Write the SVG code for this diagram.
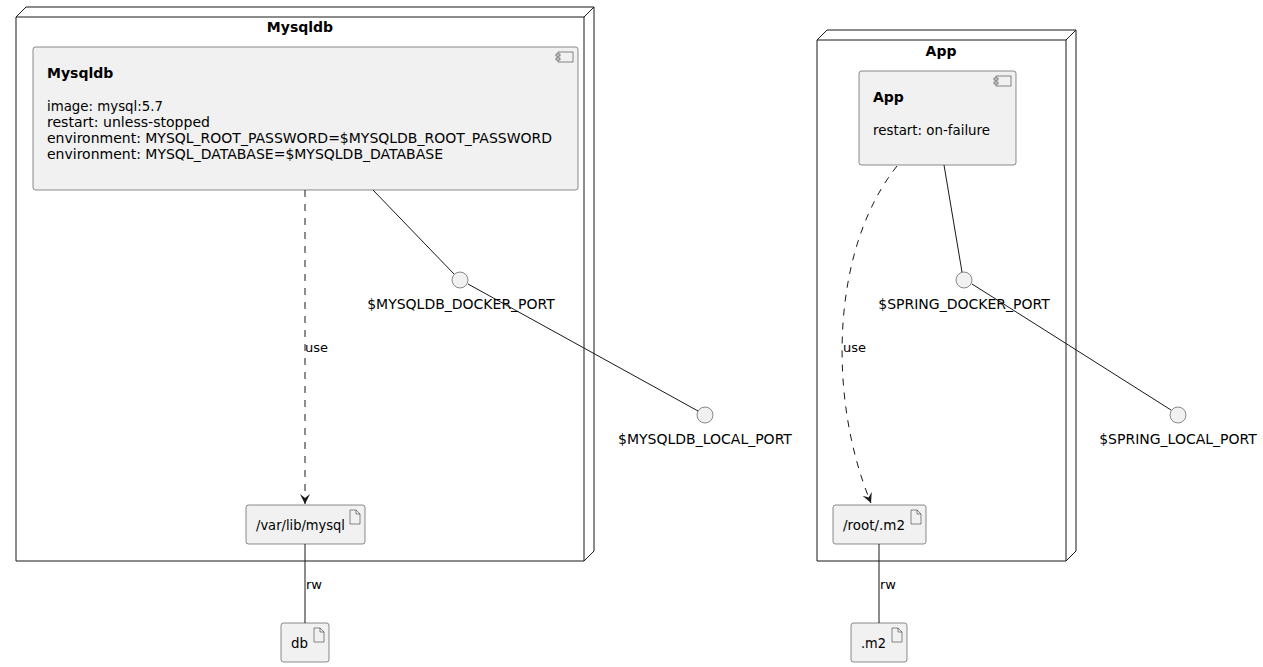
<svg xmlns="http://www.w3.org/2000/svg" width="1263" height="667" viewBox="0 0 1263 667">
<style>
.node{fill:none;stroke:#181818;stroke-width:1}
.box{fill:#F1F1F1;stroke:#181818;stroke-width:0.5}
.icon{fill:#F1F1F1;stroke:#181818;stroke-width:0.5}
.t{font-family:"DejaVu Sans",sans-serif;font-size:14px;fill:#000}
.b{font-family:"DejaVu Sans",sans-serif;font-size:14px;font-weight:bold;fill:#000}
.l{font-family:"DejaVu Sans",sans-serif;font-size:13px;fill:#000}
.ln{fill:none;stroke:#181818;stroke-width:1}
.dash{fill:none;stroke:#181818;stroke-width:1;stroke-dasharray:7,7}
</style>
<defs>
<marker id="arr" markerWidth="12" markerHeight="12" refX="10" refY="5" orient="auto" markerUnits="userSpaceOnUse" viewBox="0 0 12 10">
<path d="M0,0 L10,5 L0,10 L4,5 Z" fill="#181818"/>
</marker>
</defs>
<rect width="1263" height="667" fill="#FFFFFF"/>

<g id="node-mysqldb">
<path class="node" d="M16,17 L26,7 L594,7 L594,551 L584,561 L16,561 Z"/>
<path class="node" d="M584,17 L594,7 M16,17 L584,17 L584,561"/>
<text class="b" x="300" y="32" text-anchor="middle">Mysqldb</text>
</g>

<g id="node-app">
<path class="node" d="M817,40 L827,30 L1076,30 L1076,551 L1066,561 L817,561 Z"/>
<path class="node" d="M1066,40 L1076,30 M817,40 L1066,40 L1066,561"/>
<text class="b" x="941" y="56" text-anchor="middle">App</text>
</g>

<g id="comp-mysqldb">
<rect class="box" x="33" y="47" width="545" height="143" rx="2.5"/>
<rect class="icon" x="558" y="52" width="15" height="10"/>
<rect class="icon" x="556" y="54" width="4" height="2"/>
<rect class="icon" x="556" y="58" width="4" height="2"/>
<text class="b" x="47" y="78">Mysqldb</text>
<text class="t" x="47" y="111" textLength="116" lengthAdjust="spacingAndGlyphs">image: mysql:5.7</text>
<text class="t" x="47" y="127" textLength="163" lengthAdjust="spacingAndGlyphs">restart: unless-stopped</text>
<text class="t" x="47" y="143" textLength="505" lengthAdjust="spacingAndGlyphs">environment: MYSQL_ROOT_PASSWORD=$MYSQLDB_ROOT_PASSWORD</text>
<text class="t" x="47" y="159">environment: MYSQL_DATABASE=$MYSQLDB_DATABASE</text>
</g>

<g id="comp-app">
<rect class="box" x="859" y="71" width="157" height="94" rx="2.5"/>
<rect class="icon" x="996" y="76" width="15" height="10"/>
<rect class="icon" x="994" y="78" width="4" height="2"/>
<rect class="icon" x="994" y="82" width="4" height="2"/>
<text class="b" x="873" y="102">App</text>
<text class="t" x="873" y="135" textLength="117" lengthAdjust="spacingAndGlyphs">restart: on-failure</text>
</g>

<g id="art-varlibmysql">
<rect class="box" x="246" y="505" width="119" height="39" rx="2.5"/>
<path class="icon" d="M350,510 L350,524 L360,524 L360,514 L356,510 Z M356,510 L356,514 L360,514"/>
<text class="t" x="256" y="530" textLength="89" lengthAdjust="spacingAndGlyphs">/var/lib/mysql</text>
</g>

<g id="art-db">
<rect class="box" x="281" y="623" width="48" height="39" rx="2.5"/>
<path class="icon" d="M314,628 L314,642 L324,642 L324,632 L320,628 Z M320,628 L320,632 L324,632"/>
<text class="t" x="291" y="648" textLength="17" lengthAdjust="spacingAndGlyphs">db</text>
</g>

<g id="art-rootm2">
<rect class="box" x="833" y="505" width="93" height="39" rx="2.5"/>
<path class="icon" d="M911,510 L911,524 L921,524 L921,514 L917,510 Z M917,510 L917,514 L921,514"/>
<text class="t" x="843" y="530" textLength="62" lengthAdjust="spacingAndGlyphs">/root/.m2</text>
</g>

<g id="art-m2">
<rect class="box" x="851" y="623" width="56" height="39" rx="2.5"/>
<path class="icon" d="M892,628 L892,642 L902,642 L902,632 L898,628 Z M898,628 L898,632 L902,632"/>
<text class="t" x="861" y="648" textLength="25" lengthAdjust="spacingAndGlyphs">.m2</text>
</g>

<g id="if-mysqldb-docker">
<circle class="box" cx="460" cy="280" r="8"/>
<text class="t" x="461" y="309" text-anchor="middle">$MYSQLDB_DOCKER_PORT</text>
</g>
<g id="if-mysqldb-local">
<circle class="box" cx="705" cy="415" r="8"/>
<text class="t" x="705" y="444" text-anchor="middle">$MYSQLDB_LOCAL_PORT</text>
</g>
<g id="if-spring-docker">
<circle class="box" cx="964" cy="280" r="8"/>
<text class="t" x="964" y="309" text-anchor="middle">$SPRING_DOCKER_PORT</text>
</g>
<g id="if-spring-local">
<circle class="box" cx="1178" cy="415" r="8"/>
<text class="t" x="1178" y="444" text-anchor="middle">$SPRING_LOCAL_PORT</text>
</g>

<g id="connectors">
<path class="dash" d="M305,190 L305,504" marker-end="url(#arr)"/>
<text class="l" x="305" y="352">use</text>
<path class="ln" d="M373,190 L454,274"/>
<path class="ln" d="M468,284 L698,411"/>
<path class="ln" d="M305,544 L305,623"/>
<text class="l" x="306" y="589">rw</text>

<path class="dash" d="M897,166 C830,250 828,400 871,503" marker-end="url(#arr)"/>
<text class="l" x="843" y="352">use</text>
<path class="ln" d="M944,165 L962,272"/>
<path class="ln" d="M972,284 L1171,410"/>
<path class="ln" d="M879,544 L879,623"/>
<text class="l" x="880" y="589">rw</text>
</g>
</svg>
